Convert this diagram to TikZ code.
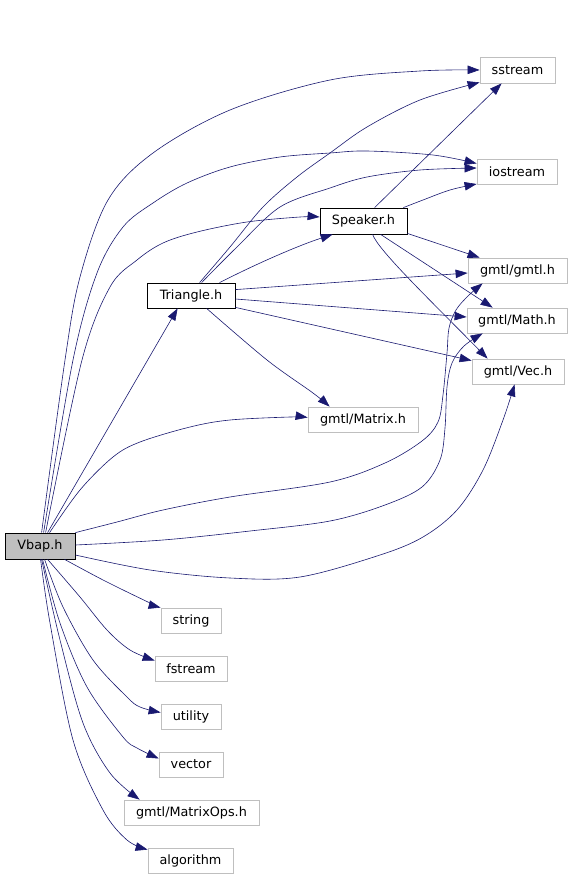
\documentclass[tikz,border=0pt]{standalone}
\usepackage{fontspec}
\setmainfont{DejaVu Sans}
\usetikzlibrary{arrows.meta}
\definecolor{edgeblue}{HTML}{191970}
\definecolor{boxgray}{HTML}{BFBFBF}
\definecolor{mainfill}{HTML}{BFBFBF}
\begin{document}
\begin{tikzpicture}[x=1pt,y=-1pt,
  font=\fontsize{12.8}{15}\selectfont,
  file/.style={draw=boxgray, line width=0.8pt, inner sep=0pt, minimum height=25pt, fill=white},
  mainfile/.style={file, draw=black},
  edge/.style={draw=edgeblue, line width=0.6pt, -{Triangle[length=12pt,width=8.5pt]}},
  sm/.style={smooth, tension=0.55}]
\useasboundingbox (0,0) rectangle (573,877);

% nodes
\node[mainfile, fill=mainfill, minimum width=70pt, minimum height=26pt] (vbap) at (40,546) {Vbap.h};
\node[file, minimum width=75pt, minimum height=26pt] (sstream) at (517.5,70) {sstream};
\node[file, minimum width=80pt] (iostream) at (517,171.5) {iostream};
\node[mainfile, minimum width=87pt, minimum height=26pt] (speaker) at (363.5,221) {Speaker.h};
\node[file, minimum width=99pt] (gmtlh) at (517.5,270.5) {gmtl/gmtl.h};
\node[mainfile, minimum width=88pt] (triangle) at (191,295.5) {Triangle.h};
\node[file, minimum width=100pt] (math) at (517,320.5) {gmtl/Math.h};
\node[file, minimum width=92pt] (vec) at (518,371.5) {gmtl/Vec.h};
\node[file, minimum width=110pt] (matrix) at (363,419.5) {gmtl/Matrix.h};
\node[file, minimum width=60pt] (string) at (191,620.5) {string};
\node[file, minimum width=72pt] (fstream) at (191,668.5) {fstream};
\node[file, minimum width=60pt] (utility) at (191,716.5) {utility};
\node[file, minimum width=64pt] (vector) at (191,764.5) {vector};
\node[file, minimum width=135pt] (matrixops) at (191.5,812.5) {gmtl/MatrixOps.h};
\node[file, minimum width=85pt] (algorithm) at (190.5,860.5) {algorithm};

% Vbap.h edges
\draw[edge] plot[sm] coordinates {([xshift=37pt]vbap.north west) (65,360) (80,277) (108,200) (153,153) (230,110) (330,80) (420,71) (sstream.west)};
\draw[edge] plot[sm] coordinates {([xshift=39pt]vbap.north west) (73,360) (97,273) (123,227) (153,203) (187,183) (230,167) (280,157) (330,153) (367,151) (433,155) ([yshift=8pt]iostream.west)};
\draw[edge] plot[sm] coordinates {([xshift=41pt]vbap.north west) (82,360) (110,287) (137,260) (163,243) (197,232) (247,222) (300,217) ([yshift=4pt]speaker.west)};
\draw[edge] ([xshift=43pt]vbap.north west) -- ([xshift=31pt]triangle.south west);
\draw[edge] plot[sm] coordinates {([xshift=45pt]vbap.north west) (80,490) (113,457) (140,442) (190,427) (230,420) (290,417) ([yshift=2pt]matrix.west)};
\draw[edge] plot[sm] coordinates {(vbap.north east) (117,522) (163,510) (230,497) (330,482) (385,463) (422,441) (438,422) (443,395) (447,353) (449,328) (456,310) (468,296) ([xshift=15pt]gmtlh.south west)};
\draw[edge] plot[sm] coordinates {([yshift=1pt]vbap.east) (163,540) (250,531) (330,521) (385,505) (422,487) (440,460) (445,428) (447,387) (452,363) (464,346) ([xshift=16pt]math.south west)};
\draw[edge] plot[sm] coordinates {([yshift=-9pt]vbap.east) (150,570) (230,578) (300,577) (380,555) (423,537) (457,510) (483,470) (503,420) ([xshift=43pt]vec.south west)};
\draw[edge] plot[sm] coordinates {([xshift=60pt]vbap.south west) (105,581) (150,603) (string.north west)};
\draw[edge] plot[sm] coordinates {([xshift=43pt]vbap.south west) (80,597) (107,630) (130,650) ([yshift=8pt]fstream.west)};
\draw[edge] plot[sm] coordinates {([xshift=40pt]vbap.south west) (63,607) (93,660) (127,697) (140,707) ([yshift=4pt]utility.west)};
\draw[edge] plot[sm] coordinates {([xshift=38pt]vbap.south west) (60,623) (87,687) (123,737) (137,748) ([yshift=6pt]vector.west)};
\draw[edge] plot[sm] coordinates {([xshift=37pt]vbap.south west) (60,640) (83,723) (110,773) ([xshift=16pt]matrixops.north west)};
\draw[edge] plot[sm] coordinates {([xshift=36pt]vbap.south west) (50,623) (73,740) (103,810) (127,840) ([yshift=-2pt]algorithm.north west)};

% Triangle.h edges
\draw[edge] plot[sm] coordinates {([xshift=53pt]triangle.north west) (230,247) (263,207) (297,177) (330,153) (367,127) (420,100) ([yshift=1pt]sstream.south west)};
\draw[edge] plot[sm] coordinates {([xshift=55pt]triangle.north west) (237,247) (280,207) (330,188) (367,177) (420,170) ([yshift=3.5pt]iostream.west)};
\draw[edge] ([xshift=73pt]triangle.north west) .. controls (260,262) and (300,245) .. ([xshift=13pt]speaker.south west);
\draw[edge] ([yshift=-7pt]triangle.north east) -- ([yshift=-2.5pt]gmtlh.west);
\draw[edge] ([yshift=-3.5pt]triangle.east) -- ([yshift=3.5pt]math.west);
\draw[edge] ([yshift=1pt]triangle.south east) -- ([yshift=-2pt]vec.north west);
\draw[edge] plot[sm] coordinates {([xshift=60pt]triangle.south west) (267,360) (313,393) ([xshift=22pt]matrix.north west)};

% Speaker.h edges
\draw[edge] ([xshift=55pt]speaker.north west) -- ([xshift=22pt]sstream.south west);
\draw[edge] plot[sm] coordinates {([xshift=-4pt]speaker.north east) (423,200) (450,190) ([yshift=-12.5pt]iostream.west)};
\draw[edge] ([yshift=1pt]speaker.south east) -- ([xshift=12pt]gmtlh.north west);
\draw[edge] ([xshift=61pt]speaker.south west) -- ([xshift=26pt]math.north west);
\draw[edge] ([xshift=53pt]speaker.south west) .. controls (378,250) and (430,300) .. ([xshift=16pt]vec.north west);
\end{tikzpicture}
\end{document}
